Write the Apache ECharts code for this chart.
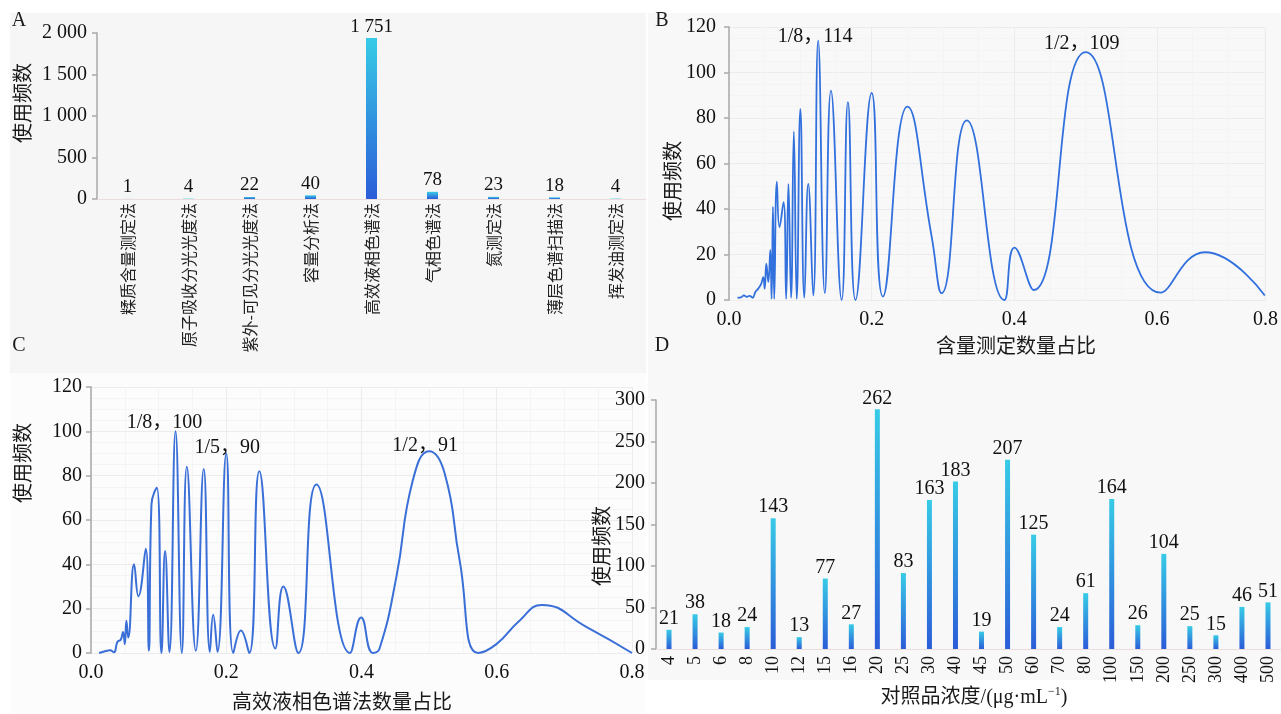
<!DOCTYPE html>
<html><head><meta charset="utf-8">
<script src="https://cdn.jsdelivr.net/npm/echarts@6/dist/echarts.min.js"></script>
<style>html,body{margin:0;padding:0;background:#fff}#c{width:1281px;height:714px}</style>
</head><body><div id="c"></div>
<script>
// ---------- Panel A : methods ----------
const aCategories = ['糅质含量测定法','原子吸收分光光度法','紫外-可见分光光度法','容量分析法','高效液相色谱法','气相色谱法','氮测定法','薄层色谱扫描法','挥发油测定法'];
const aValues = [1, 4, 22, 40, 1751, 78, 23, 18, 4];
const aTickLabels = ['0', '500', '1 000', '1 500', '2 000'];

// ---------- Panel B : 含量测定数量占比 ----------
const bX = [0.012,0.017,0.021,0.025,0.029,0.033,0.037,0.041,0.045,0.048,0.050,0.0523,0.0551,0.0579,0.0597,0.0616,0.0634,0.0671,0.0708,0.0764,0.0801,0.0833,0.087,0.0909,0.0949,0.1,0.1056,0.1111,0.1181,0.125,0.1343,0.1429,0.1579,0.1667,0.1773,0.2,0.2157,0.25,0.284,0.298,0.3333,0.386,0.4,0.427,0.5,0.605,0.667,0.751];
const bY = [1,1.2,2,1.4,1.8,1,3.5,5,7,10,5,16,8,22,0.5,41,0.5,52,32,43,0.5,51,1,74,0.5,84,1,51,2,114,3,92,0,87,0,91,1.5,85,28,3,79,0,23,4.4,109,3.2,21,2];
const bNoteText = ['1/8，114', '1/2，109'];
const bNoteX = [0.125, 0.5];
const bNoteY = [114, 109];

// ---------- Panel C : 高效液相色谱法数量占比 ----------
const cX = [0.012,0.022,0.028,0.034,0.039,0.044,0.0474,0.050,0.0523,0.055,0.0637,0.0701,0.081,0.0855,0.0894,0.0973,0.1042,0.1096,0.116,0.125,0.1343,0.1417,0.155,0.1667,0.1758,0.1807,0.187,0.2,0.2104,0.2217,0.234,0.2489,0.2726,0.2844,0.3067,0.3333,0.383,0.3995,0.4168,0.4267,0.4514,0.476,0.5,0.523,0.545,0.5723,0.5995,0.634,0.6667,0.733,0.8];
const cY = [0,0.9,1.2,0.3,5,6,9.5,4,14.5,7,40,25.6,47,1,67,74.6,0,46,0.5,100,0,84,1,83,0.5,17.3,0.5,90,0,10.2,0,82,2,30,0,76,0,16,0,2,34,78,91,81,42,0,4,14.7,21.7,11.7,0];
const cNoteText = ['1/8，100', '1/5，90', '1/2，91'];
const cNoteX = [0.125, 0.2, 0.5];
const cNoteY = [100, 90, 91];

// ---------- Panel D : 对照品浓度 ----------
const dCategories = ['4','5','6','8','10','12','15','16','20','25','30','40','45','50','60','70','80','100','150','200','250','300','400','500'];
const dValues = [21,38,18,24,143,13,77,27,262,83,163,183,19,207,125,24,61,164,26,104,25,15,46,51];
const dTickLabels = ['0','50','100','150','200','250','300'];

// ---------- styling ----------
const SERIF = '"Liberation Serif","Noto Sans CJK SC",serif';
const CJK = '"Noto Sans CJK SC","Liberation Serif",sans-serif';
const AXIS_GRAY = '#a9a9a9';
const aInterval = 451.5, aMax = aInterval * 4;
const dInterval = 45.37, dMax = dInterval * 6;

function thousands(v) { return String(v).replace(/\B(?=(\d{3})+(?!\d))/g, ' '); }
function barGradient() {
  return new echarts.graphic.LinearGradient(0, 0, 0, 1, [
    { offset: 0, color: '#37cbe6' }, { offset: 1, color: '#2b5cd8' }
  ]);
}
function valueAxisY(grid, max, interval, margin, fmt, split) {
  return {
    gridIndex: grid, type: 'value', min: 0, max: max, interval: interval,
    axisLine: { show: true, lineStyle: { color: AXIS_GRAY, width: 1.5 } },
    axisTick: { show: true, length: 5, lineStyle: { color: AXIS_GRAY, width: 1.5 } },
    splitLine: { show: split, lineStyle: { color: '#ececec', width: 1 } },
    minorTick: { show: false, splitNumber: 4 },
    minorSplitLine: { show: split, lineStyle: { color: '#f4f4f4', width: 1 } },
    axisLabel: { formatter: fmt, margin: margin, fontSize: 20, fontFamily: SERIF, color: '#111' }
  };
}
function valueAxisX(grid, max, margin) {
  return {
    gridIndex: grid, type: 'value', min: 0, max: max, interval: 0.2,
    axisLine: { show: false }, axisTick: { show: false },
    splitLine: { show: true, lineStyle: { color: '#ececec', width: 1 } },
    minorTick: { show: false, splitNumber: 4 },
    minorSplitLine: { show: true, lineStyle: { color: '#f4f4f4', width: 1 } },
    axisLabel: { formatter: v => v.toFixed(1), margin: margin, fontSize: 20, fontFamily: SERIF, color: '#111' }
  };
}
function textEl(str, x, y, size, font, rot, extra) {
  return Object.assign({
    type: 'text', x: x, y: y, rotation: rot || 0, z: 10,
    style: { text: str, fontSize: size, fontFamily: font, fill: '#1a1a1a',
      textAlign: 'center', textVerticalAlign: 'middle', align: 'center', verticalAlign: 'middle' }
  }, extra || {});
}
function noteSeries(xi, yi, xs, ys, texts, offsets) {
  return {
    type: 'scatter', xAxisIndex: xi, yAxisIndex: yi, symbolSize: 1, z: 5,
    itemStyle: { color: 'rgba(0,0,0,0)' }, silent: true,
    data: xs.map((x, i) => ({
      value: [x, ys[i]],
      label: { show: true, position: 'inside', offset: offsets[i], formatter: texts[i],
        fontSize: 20, fontFamily: SERIF, color: '#111', opacity: 1,
        textBorderWidth: 0, textBorderColor: 'transparent' }
    }))
  };
}

const chart = echarts.init(document.getElementById('c'), null, { renderer: 'canvas' });
chart.setOption({
  animation: false,
  backgroundColor: '#ffffff',
  grid: [
    { left: 97, top: 33, width: 549, height: 166 },
    { left: 729, top: 27, width: 541, height: 273 },
    { left: 91, top: 387, width: 541, height: 266 },
    { left: 656, top: 400, width: 625, height: 249 }
  ],
  xAxis: [
    { gridIndex: 0, type: 'category', data: aCategories,
      axisTick: { show: false }, axisLine: { lineStyle: { color: '#ecdcdc', width: 1 } },
      axisLabel: { interval: 0, rotate: 90, margin: 4, fontSize: 16, fontFamily: CJK, color: '#222' } },
    valueAxisX(1, 0.752, 10),
    valueAxisX(2, 0.8, 10),
    { gridIndex: 3, type: 'category', data: dCategories,
      axisTick: { show: false }, axisLine: { lineStyle: { color: '#ecdcdc', width: 1 } },
      axisLabel: { interval: 0, rotate: 90, margin: 7, fontSize: 18, fontFamily: SERIF, color: '#111' } }
  ],
  yAxis: [
    valueAxisY(0, aMax, aInterval, 10, v => aTickLabels[Math.round(v / aInterval)], false),
    valueAxisY(1, 120, 20, 13, v => String(v), true),
    valueAxisY(2, 120, 20, 9, v => String(v), true),
    valueAxisY(3, dMax, dInterval, 11, v => dTickLabels[Math.round(v / dInterval)], false)
  ],
  series: [
    { type: 'bar', xAxisIndex: 0, yAxisIndex: 0, data: aValues, barWidth: 11,
      itemStyle: { color: barGradient() },
      label: { show: true, position: 'top', distance: 2, formatter: p => thousands(p.value),
        fontSize: 19, fontFamily: SERIF, color: '#111' } },
    { type: 'line', xAxisIndex: 1, yAxisIndex: 1, data: bX.map((x, i) => [x, bY[i]]),
      smooth: 0.5, showSymbol: false, symbol: 'none',
      lineStyle: { color: '#3170dd', width: 1.8 } },
    noteSeries(1, 1, bNoteX, bNoteY, bNoteText, [[-3, -4], [-4, -8]]),
    { type: 'line', xAxisIndex: 2, yAxisIndex: 2, data: cX.map((x, i) => [x, cY[i]]),
      smooth: 0.5, showSymbol: false, symbol: 'none',
      lineStyle: { color: '#3a6fd8', width: 2 } },
    noteSeries(2, 2, cNoteX, cNoteY, cNoteText, [[-11, -9], [1, -6], [-4, -6]]),
    { type: 'bar', xAxisIndex: 3, yAxisIndex: 3, data: dValues, barWidth: 5,
      itemStyle: { color: barGradient() },
      label: { show: true, position: 'top', distance: 1,
        fontSize: 20, fontFamily: SERIF, color: '#111' } }
  ],
  graphic: { elements: [
    { type: 'rect', z: -1, shape: { x: 10, y: 13, width: 636, height: 360 }, style: { fill: '#f6f6f6' } },
    { type: 'rect', z: -1, shape: { x: 648, y: 13, width: 633, height: 360 }, style: { fill: '#f8f8f8' } },
    { type: 'rect', z: -1, shape: { x: 10, y: 373, width: 636, height: 341 }, style: { fill: '#fcfcfc' } },
    { type: 'rect', z: -1, shape: { x: 648, y: 373, width: 633, height: 307 }, style: { fill: '#f8f8f8' } },
    textEl('A', 19, 21, 20, SERIF, 0),
    textEl('B', 662, 21, 20, SERIF, 0),
    textEl('C', 19, 346, 20, SERIF, 0),
    textEl('D', 662, 346, 20, SERIF, 0),
    textEl('使用频数', 22, 103, 20, CJK, Math.PI / 2),
    textEl('使用频数', 672, 181, 20, CJK, Math.PI / 2),
    textEl('使用频数', 22, 463, 20, CJK, Math.PI / 2),
    textEl('使用频数', 601, 546, 20, CJK, Math.PI / 2),
    textEl('含量测定数量占比', 1016, 345, 20, CJK, 0),
    textEl('高效液相色谱法数量占比', 342, 701, 20, CJK, 0),
    { type: 'text', x: 974, y: 698, z: 10,
      style: { text: '{a|对照品浓度/(μg·mL}{s|−1}{a|)}', align: 'center', verticalAlign: 'middle',
        textAlign: 'center', textVerticalAlign: 'middle',
        rich: { a: { fontSize: 20, fontFamily: SERIF, fill: '#1a1a1a', color: '#1a1a1a' },
                s: { fontSize: 12, fontFamily: SERIF, fill: '#1a1a1a', color: '#1a1a1a', padding: [0, 0, 12, 0] } } } }
  ] }
});
</script>
</body></html>
